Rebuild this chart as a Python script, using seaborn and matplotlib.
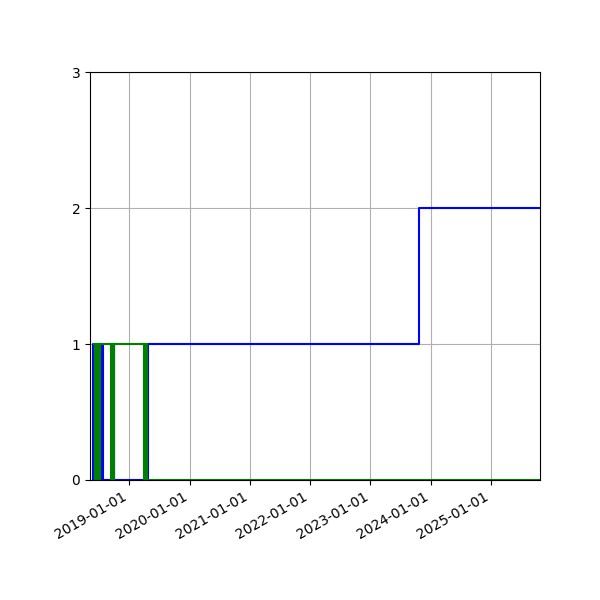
import matplotlib
matplotlib.use("Agg")
import matplotlib.pyplot as plt
import matplotlib.dates as mdates
import pandas as pd
import seaborn as sns

# Blue series (step, post)
blue_dates = ["2018-05-27", "2018-05-29", "2018-06-10", "2018-06-20", "2018-07-10",
              "2018-07-20", "2018-07-24", "2018-09-28", "2018-10-01", "2019-04-26",
              "2023-10-24", "2025-10-25"]
blue_values = [0, 1, 0, 1, 0, 1, 0, 1, 0, 1, 2, 2]

# Green series (step, post)
green_dates = ["2018-06-03", "2018-06-06", "2018-06-09", "2018-06-12", "2018-06-15",
               "2018-06-18", "2018-06-21", "2018-06-24", "2018-06-27", "2018-06-30",
               "2018-07-03", "2018-07-06", "2018-07-09", "2018-07-13",
               "2018-09-15", "2018-09-20", "2018-09-24", "2018-09-29",
               "2019-03-31", "2019-04-05", "2019-04-10", "2019-04-15", "2019-04-20",
               "2019-04-24", "2025-10-25"]
green_values = [1, 0, 1, 0, 1, 0, 1, 0, 1, 0, 1, 0, 1, 1,
                0, 1, 0, 1,
                0, 1, 0, 1, 0,
                0, 0]

x_start = "2018-05-08"
x_end = "2025-10-25"
y_ticks = [0, 1, 2, 3]

blue_df = pd.DataFrame({"date": pd.to_datetime(blue_dates), "value": blue_values})
green_df = pd.DataFrame({"date": pd.to_datetime(green_dates), "value": green_values})

fig, ax = plt.subplots(figsize=(6, 6), dpi=100)
sns.lineplot(data=blue_df, x="date", y="value", color="blue", linewidth=1.5,
             drawstyle="steps-post", estimator=None, ax=ax)
sns.lineplot(data=green_df, x="date", y="value", color="green", linewidth=1.5,
             drawstyle="steps-post", estimator=None, ax=ax)

ax.set_xlim(pd.Timestamp(x_start), pd.Timestamp(x_end))
ax.set_ylim(0, 3)
ax.set_yticks(y_ticks)
ax.xaxis.set_major_locator(mdates.YearLocator())
ax.xaxis.set_major_formatter(mdates.DateFormatter("%Y-%m-%d"))
ax.grid(True)
ax.set_xlabel("")
ax.set_ylabel("")
for lbl in ax.get_xticklabels():
    lbl.set_rotation(30)
    lbl.set_ha("right")

fig.subplots_adjust(left=0.15, right=0.9, bottom=0.2, top=0.88)
fig.savefig("out.png", dpi=100)
